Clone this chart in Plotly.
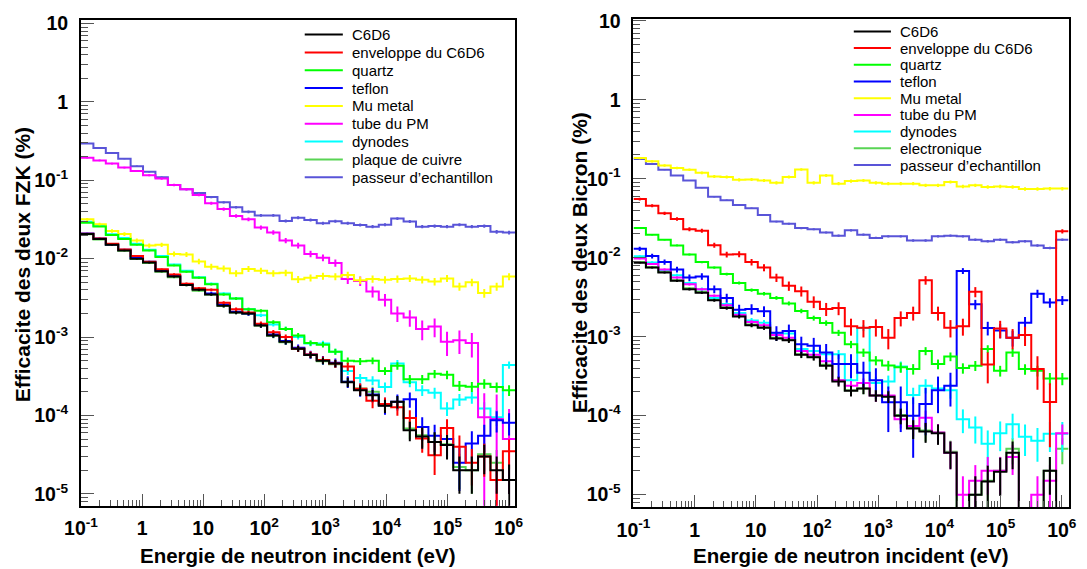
import numpy as np
import plotly.graph_objects as go

W, H = 1087, 569

# ---------------- data ----------------
N_BINS = 35
LOG_EMIN, LOG_EMAX = -1.0, 6.11

names_fzk = ["C6D6", "enveloppe du C6D6", "quartz", "teflon", "Mu metal",
             "tube du PM", "dynodes", "plaque de cuivre", "passeur d\u2019echantillon"]
names_bic = ["C6D6", "enveloppe du C6D6", "quartz", "teflon", "Mu metal",
             "tube du PM", "dynodes", "electronique", "passeur d\u2019echantillon"]
colors = ["#000000", "#ff0000", "#00ff00", "#0000ff", "#ffff00",
          "#ff00ff", "#00ffff", "#59d454", "#5954d8"]

# FZK detector (left panel), efficiency in % per energy bin
fzk_c6d6 = [0.0206, 0.0178, 0.0150, 0.0127, 0.0100, 0.0089, 0.0069, 0.0059, 0.0046, 0.0040,
            0.0035, 0.0025, 0.00205, 0.0020, 0.0014, 0.00105, 0.00087, 0.00071, 0.00059, 0.00050,
            0.00046, 0.000266, 0.00021, 0.000181, 0.000133, 0.00015, 6.5e-5, 5.4e-5, 4.6e-5, 4.2e-5,
            2.0e-5, 2.0e-5, 3.0e-5, 2.0e-5, 1.5e-5]
fzk_env = [0.0208, 0.0181, 0.0155, 0.0131, 0.0108, 0.0091, 0.0073, 0.0063, 0.0048, 0.0042,
           0.0040, 0.00274, 0.00226, 0.00205, 0.00148, 0.00115, 0.00100, 0.00071, 0.00060, 0.00051,
           0.00046, 0.00042, 0.000219, 0.000154, 0.000140, 0.000127, 9.3e-5, 5.1e-5, 3.1e-5, 6.9e-5,
           4.0e-5, 2.5e-5, 3.0e-5, 1.5e-5, 3.5e-5]
fzk_quartz = [0.0288, 0.0257, 0.0200, 0.0178, 0.0150, 0.0127, 0.0105, 0.0082, 0.0068, 0.0057,
              0.0047, 0.00350, 0.00310, 0.00226, 0.00216, 0.00155, 0.00127, 0.00105, 0.00084, 0.00080,
              0.00065, 0.00050, 0.00049, 0.00050, 0.00037, 0.00043, 0.00029, 0.00029, 0.00034, 0.00033,
              0.00024, 0.000233, 0.000254, 0.00023, 0.00021]
fzk_teflon = [0.0210, 0.0181, 0.0152, 0.0130, 0.0102, 0.0091, 0.0071, 0.0060, 0.0047, 0.0041,
              0.0036, 0.0026, 0.0021, 0.0020, 0.00143, 0.00108, 0.00089, 0.00073, 0.00060, 0.00051,
              0.00047, 0.00027, 0.000215, 0.000185, 0.000135, 0.000150, 0.000161, 7.1e-5, 5.5e-5, 5.0e-5,
              2.5e-5, 4.4e-5, 5.5e-5, 8.7e-5, 8.1e-5]
fzk_mu = [0.0317, 0.0274, 0.0226, 0.0206, 0.0170, 0.0147, 0.0150, 0.0115, 0.0113, 0.0092,
          0.0079, 0.0075, 0.0065, 0.0074, 0.0070, 0.0065, 0.0066, 0.00545, 0.0057, 0.0060,
          0.0059, 0.0062, 0.0053, 0.0055, 0.0054, 0.0055, 0.0056, 0.0054, 0.0051, 0.0056,
          0.0044, 0.0050, 0.00364, 0.0044, 0.0059]
fzk_tube = [0.194, 0.179, 0.163, 0.145, 0.131, 0.116, 0.105, 0.087, 0.077, 0.065,
            0.051, 0.043, 0.035, 0.0317, 0.0249, 0.0216, 0.0170, 0.0147, 0.0115, 0.0103,
            0.0088, 0.0055, 0.0052, 0.0038, 0.0030, 0.0020, 0.00178, 0.00127, 0.00136, 0.00087,
            0.00091, 0.00084, 9.5e-5, 9.0e-5, 5.0e-5]
fzk_dyn = [0.0295, 0.0262, 0.0205, 0.0183, 0.0155, 0.0130, 0.0108, 0.0084, 0.0070, 0.0058,
           0.0048, 0.0036, 0.0031, 0.00226, 0.0019, 0.00145, 0.00127, 0.00100, 0.00083, 0.00083,
           0.00065, 0.00037, 0.00030, 0.00028, 0.00023, 0.00046, 0.000266, 0.00021, 0.000195, 0.000123,
           0.00016, 0.00017, 0.000123, 9.5e-5, 0.00044]
fzk_plaque = [0.0204, 0.0176, 0.0149, 0.0126, 0.0099, 0.0088, 0.0068, 0.0058, 0.0046, 0.0039,
              0.0035, 0.0025, 0.00205, 0.00198, 0.00140, 0.00104, 0.00086, 0.00071, 0.00059, 0.00049,
              0.00045, 0.00027, 0.00022, 0.00020, 0.000135, 0.000148, 6.8e-5, 5.6e-5, 4.6e-5, 4.3e-5,
              2.2e-5, 2.0e-5, 3.2e-5, 2.5e-5, 1.5e-5]
fzk_passeur = [0.295, 0.258, 0.223, 0.188, 0.151, 0.128, 0.109, 0.087, 0.0769, 0.0685,
               0.061, 0.0523, 0.0453, 0.0396, 0.0356, 0.0356, 0.0302, 0.0333, 0.0311, 0.0283,
               0.0300, 0.0283, 0.0269, 0.0256, 0.0271, 0.0324, 0.0298, 0.0256, 0.0260, 0.0256,
               0.0271, 0.0256, 0.0260, 0.0220, 0.0215]

# Bicron detector (right panel)
bic_c6d6 = [0.00866, 0.0075, 0.0065, 0.0051, 0.0040, 0.0036, 0.0029, 0.0023, 0.0018, 0.0014,
            0.0013, 0.00095, 0.0009, 0.00059, 0.00055, 0.00043, 0.00027, 0.000207, 0.00022, 0.00018,
            0.000174, 1.0e-4, 6.9e-5, 6.3e-5, 6.0e-5, 3.4e-5, 0.0, 1.0e-5, 1.47e-5, 1.95e-5,
            3.4e-5, 0.0, 0.0, 2.0e-5, 0.0]
bic_env = [0.0552, 0.0455, 0.0365, 0.031, 0.0230, 0.022, 0.0144, 0.0110, 0.0111, 0.0088,
           0.0075, 0.0056, 0.0044, 0.00377, 0.00277, 0.00225, 0.0023, 0.00136, 0.0013, 0.00133,
           0.00097, 0.00172, 0.0020, 0.0052, 0.0020, 0.0013, 0.00136, 0.0037, 0.000445, 0.00127,
           0.00097, 0.00105, 0.00039, 0.000149, 0.0216]
bic_quartz = [0.0237, 0.0196, 0.0169, 0.0143, 0.0110, 0.0088, 0.0075, 0.0062, 0.0048, 0.0039,
              0.0035, 0.0031, 0.00264, 0.00212, 0.00172, 0.00149, 0.00112, 0.0008, 0.00063, 0.0005,
              0.000432, 0.00041, 0.00039, 0.00066, 0.00045, 0.00056, 0.0004, 0.00043, 0.0007, 0.00037,
              0.00063, 0.00039, 0.00037, 0.000295, 0.000295]
bic_teflon = [0.013, 0.0105, 0.0088, 0.0071, 0.0056, 0.0058, 0.0040, 0.0031, 0.0022, 0.00224,
              0.0021, 0.00112, 0.00118, 0.0008, 0.00077, 0.00063, 0.00045, 0.00045, 0.00035, 0.00028,
              0.000148, 0.000148, 1.0e-4, 0.00014, 0.00021, 0.00024, 0.0068, 0.00257, 0.00129, 0.0012,
              0.00097, 0.0015, 0.0035, 0.0027, 0.0029]
bic_mu = [0.183, 0.166, 0.147, 0.137, 0.130, 0.119, 0.107, 0.105, 0.097, 0.098,
          0.095, 0.089, 0.105, 0.131, 0.089, 0.110, 0.0866, 0.0935, 0.095, 0.089,
          0.0866, 0.0866, 0.0866, 0.0826, 0.0826, 0.091, 0.080, 0.0826, 0.0787, 0.080,
          0.0787, 0.0743, 0.0743, 0.075, 0.075]
bic_tube = [0.0098, 0.0083, 0.0071, 0.0056, 0.0046, 0.0040, 0.0033, 0.0025, 0.0019, 0.00153,
            0.0014, 0.00105, 0.00097, 0.00066, 0.00059, 0.00049, 0.00028, 0.00024, 0.00026, 0.00018,
            0.00018, 9.0e-5, 7.4e-5, 9.4e-5, 6.1e-5, 3.4e-5, 1.0e-5, 1.5e-5, 2.0e-5, 2.0e-5,
            3.0e-5, 0.0, 1.0e-5, 1.5e-5, 6.0e-5]
bic_dyn = [0.0104, 0.0087, 0.0070, 0.0060, 0.0048, 0.0040, 0.0031, 0.0026, 0.0020, 0.0016,
           0.0015, 0.00107, 0.0011, 0.0007, 0.00066, 0.0006, 0.0006, 0.00028, 0.00129, 0.00026,
           0.00027, 0.00042, 0.000183, 0.00024, 0.00022, 0.00021, 9.0e-5, 7.1e-5, 4.4e-5, 6.0e-5,
           7.8e-5, 5.4e-5, 4.8e-5, 5.9e-5, 5.9e-5]
bic_elec = [0.0088, 0.0076, 0.0066, 0.0052, 0.0041, 0.0037, 0.0030, 0.0024, 0.00185, 0.00143,
            0.00132, 0.00097, 0.00092, 0.0006, 0.00056, 0.00044, 0.00028, 0.00021, 0.00022, 0.00018,
            0.000176, 0.000102, 7.0e-5, 6.5e-5, 6.1e-5, 3.5e-5, 0.0, 1.0e-5, 1.5e-5, 2.0e-5,
            3.8e-5, 0.0, 0.0, 2.0e-5, 3.8e-5]
bic_passeur = [0.178, 0.154, 0.130, 0.110, 0.095, 0.077, 0.059, 0.0536, 0.0464, 0.0422,
               0.0348, 0.0287, 0.0269, 0.0237, 0.0230, 0.0209, 0.019, 0.0222, 0.0196, 0.0178,
               0.0187, 0.0187, 0.0165, 0.0165, 0.0187, 0.019, 0.0187, 0.0169, 0.0162, 0.0169,
               0.0157, 0.0162, 0.0143, 0.0133, 0.0169]

# statistical weight of one simulated count (%) per series -> Poisson error bars
fzk_weight = [5e-6, 6e-6, 5e-6, 8e-6, 6e-5, 1e-4, 5e-6, 5e-6, 6e-5]
bic_weight = [5e-6, 8e-5, 9e-6, 5e-5, 2e-4, 5e-6, 1e-5, 5e-6, 2e-5]

x_tickvals = [0.1, 1, 10, 100, 1e3, 1e4, 1e5, 1e6]
x_ticktext = ["10<sup>-1</sup>", "1", "10", "10<sup>2</sup>", "10<sup>3</sup>",
              "10<sup>4</sup>", "10<sup>5</sup>", "10<sup>6</sup>"]
y_tickvals = [1e-5, 1e-4, 1e-3, 1e-2, 1e-1, 1, 10]
y_ticktext = ["10<sup>-5</sup>", "10<sup>-4</sup>", "10<sup>-3</sup>", "10<sup>-2</sup>",
              "10<sup>-1</sup>", "1", "10"]

x_title = "Energie de neutron incident (eV)"
y_title_fzk = "Efficacite des deux FZK (%)"
y_title_bic = "Efficacite des deux Bicron (%)"

# ---------------- figure ----------------
edges = np.logspace(LOG_EMIN, LOG_EMAX, N_BINS + 1)
centers = np.sqrt(edges[:-1] * edges[1:])

fig = go.Figure()

DRAW_ORDER = [8, 7, 6, 5, 4, 3, 2, 1, 0]


def add_panel(series, weights, xa, ya):
    for i in DRAW_ORDER:
        v = np.array(series[i], dtype=float)
        w = weights[i]
        col = colors[i]
        ys = np.append(v, v[-1])
        ys = np.where(ys > 0, ys, 1e-9)
        fig.add_trace(go.Scatter(x=edges, y=ys, mode="lines",
                                 line=dict(shape="hv", color=col, width=2),
                                 xaxis=xa, yaxis=ya, showlegend=False, hoverinfo="skip"))
        m = v > 0
        err = np.sqrt(v[m] * w)
        fig.add_trace(go.Scatter(x=centers[m], y=v[m], mode="markers",
                                 marker=dict(size=0.1, color=col, opacity=0),
                                 error_y=dict(type="data", array=err, arrayminus=err,
                                              color=col, thickness=2, width=0),
                                 xaxis=xa, yaxis=ya, showlegend=False, hoverinfo="skip"))


add_panel([fzk_c6d6, fzk_env, fzk_quartz, fzk_teflon, fzk_mu, fzk_tube, fzk_dyn, fzk_plaque, fzk_passeur],
          fzk_weight, "x", "y")
add_panel([bic_c6d6, bic_env, bic_quartz, bic_teflon, bic_mu, bic_tube, bic_dyn, bic_elec, bic_passeur],
          bic_weight, "x2", "y2")

x_minor = [m * 10.0 ** e for e in range(-1, 7) for m in range(2, 10)]
y_minor = [m * 10.0 ** e for e in range(-6, 2) for m in range(2, 10)]

tickfont = dict(family="Liberation Sans", size=19.5, color="black", weight="bold")

# pixel geometry
L_X0, L_X1, L_Y0, L_Y1 = 65.5, 510.0, 10.0, 504.5
R_X0, R_X1, R_Y0, R_Y1 = 631.0, 1076.3, 9.3, 506.0


def xaxis_cfg(x0, x1):
    return dict(type="log", domain=[x0 / W, x1 / W], range=[LOG_EMIN, LOG_EMAX],
                tickmode="array", tickvals=x_tickvals, ticktext=x_ticktext,
                ticks="inside", ticklen=12, tickwidth=1, tickcolor="#555",
                minor=dict(tickmode="array", tickvals=x_minor, ticks="inside", ticklen=6,
                           tickwidth=1, tickcolor="#555", showgrid=False),
                showline=True, linecolor="black", linewidth=2, mirror=True,
                showgrid=False, zeroline=False, tickfont=tickfont, ticklabelstandoff=4)


def yaxis_cfg(y0, y1, rng, anchor):
    return dict(type="log", domain=[1 - y1 / H, 1 - y0 / H], range=rng, anchor=anchor,
                tickmode="array", tickvals=y_tickvals, ticktext=y_ticktext,
                ticks="inside", ticklen=13, tickwidth=1, tickcolor="#555",
                minor=dict(tickmode="array", tickvals=y_minor, ticks="inside", ticklen=7,
                           tickwidth=1, tickcolor="#555", showgrid=False),
                showline=True, linecolor="black", linewidth=2, mirror=True,
                showgrid=False, zeroline=False, tickfont=tickfont, ticklabelstandoff=7)


xa1 = xaxis_cfg(L_X0, L_X1)
xa1["anchor"] = "y"
xa2 = xaxis_cfg(R_X0, R_X1)
xa2["anchor"] = "y2"

annotations = []
shapes = []

xtitle_font = dict(family="Liberation Sans", size=20.5, color="black", weight="bold")
ytitle_font = dict(family="Liberation Sans", size=21, color="black", weight="bold")
# axis titles
annotations.append(dict(text=x_title, x=(L_X0 + L_X1) / 2 / W, y=1 - 555 / H, xref="paper", yref="paper",
                        showarrow=False, font=xtitle_font, xanchor="center", yanchor="middle"))
annotations.append(dict(text=x_title, x=(R_X0 + R_X1) / 2 / W, y=1 - 555 / H, xref="paper", yref="paper",
                        showarrow=False, font=xtitle_font, xanchor="center", yanchor="middle"))
annotations.append(dict(text=y_title_fzk, x=6 / W, y=1 - 259 / H, xref="paper", yref="paper",
                        showarrow=False, font=ytitle_font, textangle=-90, xanchor="center", yanchor="middle"))
annotations.append(dict(text=y_title_bic, x=576 / W, y=1 - 257 / H, xref="paper", yref="paper",
                        showarrow=False, font=ytitle_font, textangle=-90, xanchor="center", yanchor="middle"))

# legends (drawn inside each frame)
leg_font = dict(family="Liberation Sans", size=15, color="black")


def add_legend(names, lx0, lx1, tx, y0, dy):
    for i, (nm, col) in enumerate(zip(names, colors)):
        yy = 1 - (y0 + i * dy) / H
        shapes.append(dict(type="line", xref="paper", yref="paper", x0=lx0 / W, x1=lx1 / W,
                           y0=yy, y1=yy, line=dict(color=col, width=2)))
        annotations.append(dict(text=nm, x=tx / W, y=yy, xref="paper", yref="paper",
                                showarrow=False, font=leg_font, xanchor="left", yanchor="middle"))


add_legend(names_fzk, 294.5, 333.5, 341, 25, 18.15)
add_legend(names_bic, 856.5, 894.5, 902, 21.8, 17.0)

fig.update_layout(
    width=W, height=H, margin=dict(l=0, r=0, t=0, b=0),
    paper_bgcolor="white", plot_bgcolor="white",
    xaxis=xa1, xaxis2=xa2,
    yaxis=yaxis_cfg(L_Y0, L_Y1, [-5.15, 1.046], "x"),
    yaxis2=yaxis_cfg(R_Y0, R_Y1, [-5.158, 1.021], "x2"),
    annotations=annotations, shapes=shapes,
    showlegend=False, hovermode=False,
)

fig.write_html("out.html")
